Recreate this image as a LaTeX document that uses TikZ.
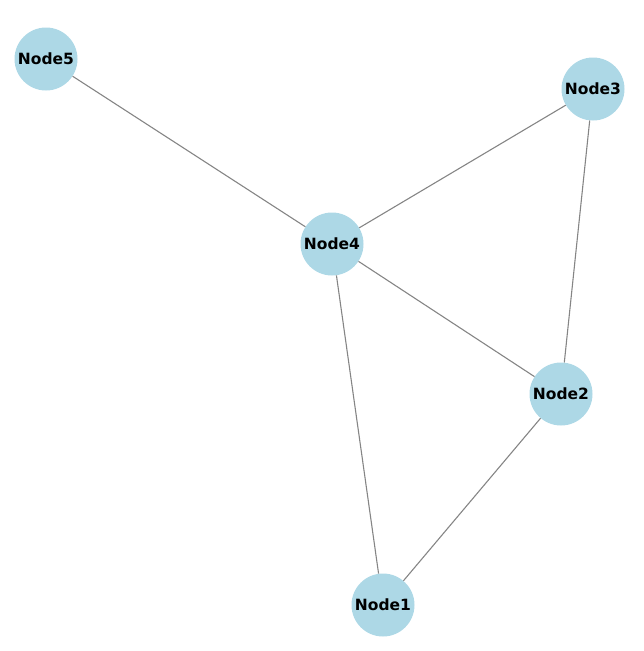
\documentclass[tikz,border=0pt]{standalone}
\usepackage{fontspec}
\setmainfont{DejaVu Sans}
\begin{document}
\begin{tikzpicture}[x=1pt,y=-1pt,
  vertex/.style={circle,fill=lightblueC,draw=none,minimum size=63pt,inner sep=0pt,font=\bfseries\fontsize{15.5}{18}\selectfont},
  edge/.style={draw=edgegray,line width=1.1pt}]
\definecolor{lightblueC}{HTML}{ADD8E6}
\definecolor{edgegray}{HTML}{858585}
\useasboundingbox (0,0) rectangle (644,651);
\node[vertex] (n5) at (46,59) {Node5};
\node[vertex] (n3) at (593,89) {Node3};
\node[vertex] (n4) at (332,244) {Node4};
\node[vertex] (n2) at (561,394) {Node2};
\node[vertex] (n1) at (383,605) {Node1};
\draw[edge] (n5) -- (n4);
\draw[edge] (n4) -- (n3);
\draw[edge] (n4) -- (n2);
\draw[edge] (n4) -- (n1);
\draw[edge] (n3) -- (n2);
\draw[edge] (n2) -- (n1);
\end{tikzpicture}
\end{document}
